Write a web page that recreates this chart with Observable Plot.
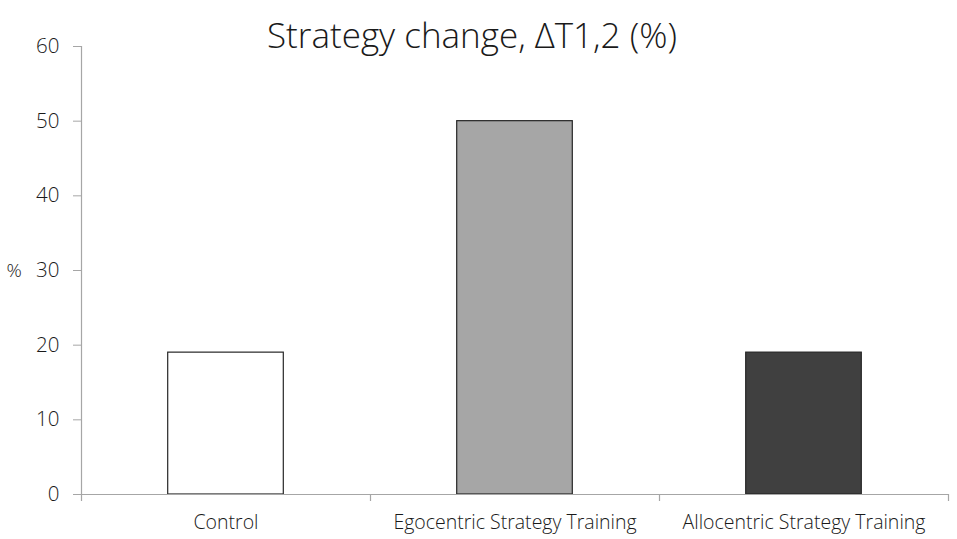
<!DOCTYPE html>
<html><head><meta charset="utf-8">
<script src="https://cdn.jsdelivr.net/npm/d3@7"></script>
<script src="https://cdn.jsdelivr.net/npm/@observablehq/plot@0.6"></script>
<style>
body{margin:0;background:#fff;}
svg{font-family:"Open Sans",sans-serif;}
</style></head>
<body><div id="chart"></div>
<script>
const categories = ["Control", "Egocentric Strategy Training", "Allocentric Strategy Training"];
const values = [19, 50, 19];
const fills = ["#ffffff", "#a6a6a6", "#404040"];
const yTicks = [0, 10, 20, 30, 40, 50, 60];
const title = "Strategy change, \u0394T1,2 (%)";

const data = categories.map((c, i) => ({category: c, value: values[i], fill: fills[i]}));
const W = 957, H = 539, mL = 81, mR = 9, mT = 46, mB = 45;
const band = (W - mL - mR) / categories.length;
const axisColor = "#a6a6a6";

const chart = Plot.plot({
  width: W, height: H,
  marginLeft: mL, marginRight: mR, marginTop: mT, marginBottom: mB,
  style: {fontFamily: "'Open Sans', sans-serif", color: "#262626", background: "#fff"},
  x: {domain: categories, padding: 0, label: null},
  y: {domain: [0, 60], label: null},
  marks: [
    Plot.barY(data, {x: "category", y: "value", fill: "fill", stroke: "#262626", strokeWidth: 1.2, insetLeft: band * 0.3, insetRight: band * 0.3}),
    Plot.ruleY([0], {stroke: axisColor, strokeWidth: 1.2}),
    Plot.frame({anchor: "left", stroke: axisColor, strokeWidth: 1.2}),
    Plot.ruleX(categories, {x: d => d, dx: -band / 2, y1: 0, y2: 0, insetBottom: -7, stroke: axisColor, strokeWidth: 1.2}),
    Plot.ruleX([categories[categories.length - 1]], {x: d => d, dx: band / 2, y1: 0, y2: 0, insetBottom: -7, stroke: axisColor, strokeWidth: 1.2}),
    Plot.axisY(yTicks, {tickSize: 8, tickPadding: 14, stroke: axisColor, fontSize: 20.5, fontWeight: 300, fill: "#1a1a1a"}),
    Plot.axisX({tickSize: 0, tickPadding: 21, fontSize: 19.5, fontWeight: 300, fill: "#1a1a1a", label: null}),
    Plot.text(["%"], {frameAnchor: "left", dx: -75, fontSize: 19, fontWeight: 300, fill: "#1a1a1a"}),
    Plot.text([title], {frameAnchor: "top", dx: -43, dy: -23, fontSize: 35, fill: "#1a1a1a", fontWeight: 300, style: "letter-spacing:0.8px"})
  ]
});
document.getElementById("chart").append(chart);
</script></body></html>
